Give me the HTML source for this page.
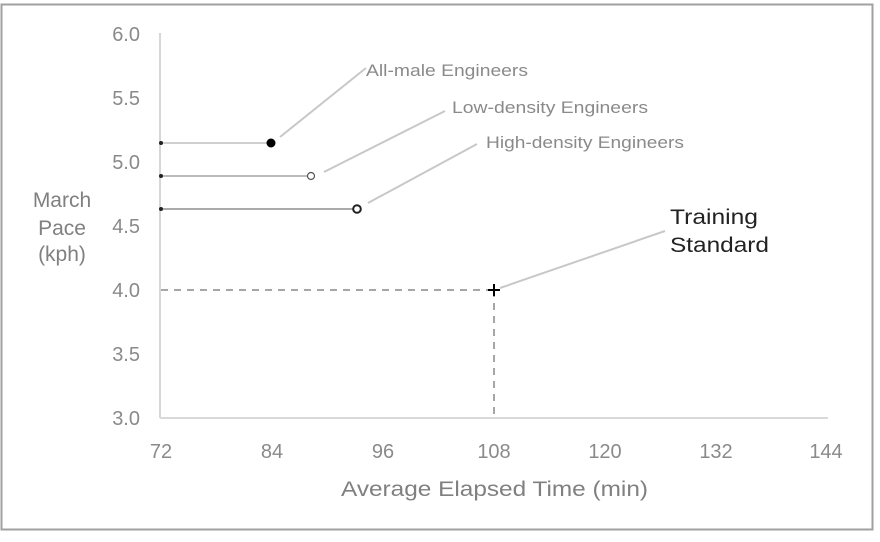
<!DOCTYPE html>
<html><head><style>
body{margin:0;background:#fff;}
svg{display:block;font-family:"Liberation Sans",Arial,sans-serif;}
</style></head><body>
<svg width="880" height="542" viewBox="0 0 880 542">
<rect x="1.5" y="4.5" width="871" height="525" fill="#fff" stroke="#a0a0a0" stroke-width="2"/>
<line x1="160" y1="33" x2="160" y2="418" stroke="#c8c8c8" stroke-width="1.5"/>
<line x1="160" y1="418" x2="828" y2="418" stroke="#d9d9d9" stroke-width="2"/>
<g fill="#8a8a8a" font-size="20" text-anchor="end">
<text x="140" y="41">6.0</text><text x="140" y="105">5.5</text><text x="140" y="169">5.0</text>
<text x="140" y="233">4.5</text><text x="140" y="297">4.0</text><text x="140" y="361">3.5</text><text x="140" y="425">3.0</text>
</g>
<g fill="#8a8a8a" font-size="20" text-anchor="middle">
<text x="161" y="458">72</text><text x="272" y="458">84</text><text x="383" y="458">96</text><text x="494" y="458">108</text>
<text x="605" y="458">120</text><text x="716" y="458">132</text><text x="826" y="458">144</text>
</g>
<text x="341" y="496" fill="#808080" font-size="21" textLength="307" lengthAdjust="spacingAndGlyphs">Average Elapsed Time (min)</text>
<text x="62" y="207" fill="#808080" font-size="21" text-anchor="middle">March</text>
<text x="62" y="235" fill="#808080" font-size="21" text-anchor="middle">Pace</text>
<text x="62" y="261" fill="#808080" font-size="21" text-anchor="middle">(kph)</text>
<line x1="161" y1="143" x2="272" y2="143" stroke="#d0d0d0" stroke-width="2"/>
<line x1="161" y1="176" x2="311" y2="176" stroke="#bbb" stroke-width="2"/>
<line x1="161" y1="209" x2="357" y2="209" stroke="#aaa" stroke-width="2"/>
<circle cx="161" cy="143" r="2" fill="#222"/><circle cx="161" cy="176" r="2" fill="#222"/><circle cx="161" cy="209" r="2" fill="#222"/>
<circle cx="271" cy="143" r="4.5" fill="#000"/>
<circle cx="311" cy="176" r="3.5" fill="#fff" stroke="#555" stroke-width="1.2"/>
<circle cx="357" cy="209" r="3.8" fill="#fff" stroke="#222" stroke-width="2"/>
<g stroke="#c8c8c8" stroke-width="2">
<line x1="280" y1="137" x2="366" y2="68"/>
<line x1="324" y1="172" x2="445" y2="111"/>
<line x1="368" y1="203" x2="477" y2="144"/>
<line x1="500" y1="288" x2="665" y2="231"/>
</g>
<g fill="#8a8a8a" font-size="17">
<text x="366" y="76" textLength="162" lengthAdjust="spacingAndGlyphs">All-male Engineers</text>
<text x="452" y="113" textLength="196" lengthAdjust="spacingAndGlyphs">Low-density Engineers</text>
<text x="486" y="148" textLength="198" lengthAdjust="spacingAndGlyphs">High-density Engineers</text>
</g>
<text x="670" y="224" fill="#222" font-size="21" textLength="88" lengthAdjust="spacingAndGlyphs">Training</text>
<text x="670" y="252" fill="#222" font-size="21" textLength="99" lengthAdjust="spacingAndGlyphs">Standard</text>
<line x1="161" y1="290" x2="494" y2="290" stroke="#888" stroke-width="1.5" stroke-dasharray="7,6"/>
<line x1="494" y1="290" x2="494" y2="418" stroke="#888" stroke-width="1.5" stroke-dasharray="7,6"/>
<line x1="488" y1="290" x2="500" y2="290" stroke="#000" stroke-width="2"/>
<line x1="494" y1="284" x2="494" y2="296" stroke="#000" stroke-width="2"/>
</svg>
</body></html>
